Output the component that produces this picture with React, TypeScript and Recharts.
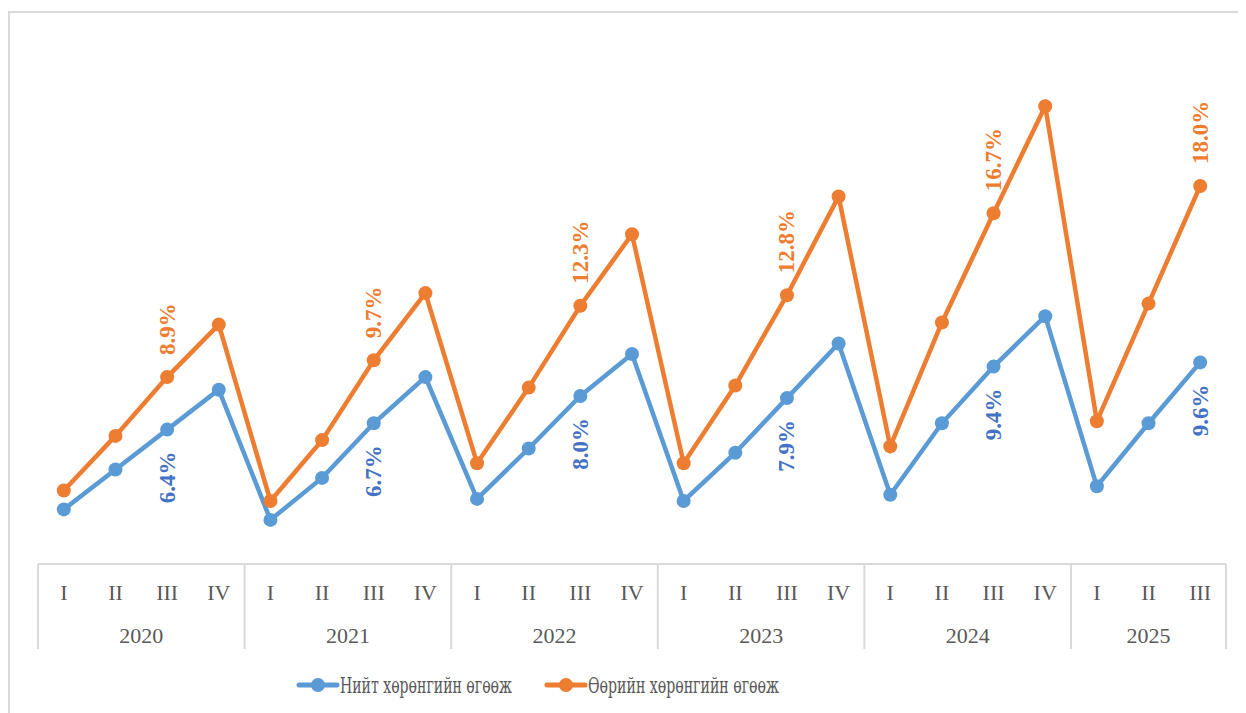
import { LabelList, Legend, Line, LineChart, XAxis, YAxis } from "recharts"

const years = ["2020", "2021", "2022", "2023", "2024", "2025"]
const quarters = [
  "I", "II", "III", "IV",
  "I", "II", "III", "IV",
  "I", "II", "III", "IV",
  "I", "II", "III", "IV",
  "I", "II", "III", "IV",
  "I", "II", "III",
]
const quarterYears = [
  "2020", "2020", "2020", "2020",
  "2021", "2021", "2021", "2021",
  "2022", "2022", "2022", "2022",
  "2023", "2023", "2023", "2023",
  "2024", "2024", "2024", "2024",
  "2025", "2025", "2025",
]
// Нийт хөрөнгийн өгөөж (ROA), cumulative %
const roa = [
  2.6, 4.5, 6.4, 8.3,
  2.1, 4.1, 6.7, 8.9,
  3.1, 5.5, 8.0, 10.0,
  3.0, 5.3, 7.9, 10.5,
  3.3, 6.7, 9.4, 11.8,
  3.7, 6.7, 9.6,
]
// Өөрийн хөрөнгийн өгөөж (ROE), cumulative %
const roe = [
  3.5, 6.1, 8.9, 11.4,
  3.0, 5.9, 9.7, 12.9,
  4.8, 8.4, 12.3, 15.7,
  4.8, 8.5, 12.8, 17.5,
  5.6, 11.5, 16.7, 21.8,
  6.8, 12.4, 18.0,
]

const seriesNames = ["Нийт хөрөнгийн өгөөж", "Өөрийн хөрөнгийн өгөөж"]
const BLUE = "#5B9BD5"
const ORANGE = "#ED7D31"
const FONT = "Liberation Serif, DejaVu Serif, serif"
const CYR_FONT = "DejaVu Serif Condensed, DejaVu Serif, serif"

const data = quarters.map((q, i) => ({
  key: `${quarterYears[i]}-${q}`,
  q,
  year: quarterYears[i],
  roa: roa[i],
  roe: roe[i],
}))

const W = 1238
const H = 705
const LEFT = 30
const RIGHT = 20
const AXIS_Y = 556
const BAND = (W - LEFT - RIGHT) / quarters.length

function AxisTick(props: any) {
  const { x, index } = props
  const q = quarters[index]
  const yr = quarterYears[index]
  const parts: any[] = []
  parts.push(
    <text key="q" x={x} y={AXIS_Y + 28} textAnchor="middle" dominantBaseline="central"
      fontFamily={FONT} fontSize={22} fill="#595959">{q}</text>
  )
  if (index === 0 || quarterYears[index - 1] !== yr) {
    const n = quarterYears.filter((v) => v === yr).length
    const left = x - BAND / 2
    parts.push(<line key="l" x1={left} x2={left} y1={AXIS_Y} y2={AXIS_Y + 85} stroke="#d9d9d9" strokeWidth={2} />)
    parts.push(
      <text key="y" x={left + (n * BAND) / 2} y={AXIS_Y + 71} textAnchor="middle" dominantBaseline="central"
        fontFamily={FONT} fontSize={22} fill="#595959">{yr}</text>
    )
  }
  if (index === quarters.length - 1) {
    const right = x + BAND / 2
    parts.push(<line key="r" x1={right} x2={right} y1={AXIS_Y} y2={AXIS_Y + 85} stroke="#d9d9d9" strokeWidth={2} />)
  }
  return <g>{parts}</g>
}

const makeLabel = (color: string, above: boolean) => (props: any) => {
  const { x, y, value, index } = props
  if (quarters[index] !== "III") return null
  const ly = above ? y - 22 : y + 22
  return (
    <text x={x} y={ly} transform={`rotate(-90, ${x}, ${ly})`} textAnchor={above ? "start" : "end"}
      dominantBaseline="central" fontFamily={FONT} fontSize={23} fontWeight="bold" fill={color}>
      {`${Number(value).toFixed(1)}%`}
    </text>
  )
}

function LegendContent() {
  const items = [
    { name: seriesNames[0], color: BLUE, x: 289, w: 172 },
    { name: seriesNames[1], color: ORANGE, x: 537, w: 191 },
  ]
  return (
    <svg width={W} height={40} style={{ display: "block" }}>
      {items.map((it) => (
        <g key={it.name}>
          <line x1={it.x + 2} x2={it.x + 40} y1={20} y2={20} stroke={it.color} strokeWidth={5} strokeLinecap="round" />
          <circle cx={it.x + 21} cy={20} r={7} fill={it.color} />
          <text x={it.x + 43} y={20} dominantBaseline="central" fontFamily={CYR_FONT} fontSize={23}
            textLength={it.w} lengthAdjust="spacingAndGlyphs" fill="#595959">
            {it.name}
          </text>
        </g>
      ))}
    </svg>
  )
}

export default function App() {
  return (
    <div style={{ position: "relative", width: W, height: H }}>
      <div style={{ position: "absolute", left: 0, top: 3, right: -20, bottom: -20, borderTop: "2px solid #d9d9d9", borderLeft: "2px solid #d9d9d9" }} />
      <LineChart width={W} height={H} data={data} margin={{ top: 31, right: RIGHT, left: LEFT, bottom: 8 }}>
        <XAxis dataKey="key" interval={0} height={101} tick={<AxisTick />} tickLine={false}
          padding={{ left: BAND / 2, right: BAND / 2 }}
          axisLine={{ stroke: "#d9d9d9", strokeWidth: 2 }} />
        <YAxis hide domain={[0, 25]} />
        <Legend verticalAlign="bottom" height={40} wrapperStyle={{ left: 0, width: W }} content={<LegendContent />} />
        <Line dataKey="roa" name={seriesNames[0]} stroke={BLUE} strokeWidth={4.5} isAnimationActive={false}
          dot={{ r: 7, fill: BLUE, stroke: BLUE, strokeWidth: 0 }}>
          <LabelList dataKey="roa" content={makeLabel("#4472C4", false)} />
        </Line>
        <Line dataKey="roe" name={seriesNames[1]} stroke={ORANGE} strokeWidth={4.5} isAnimationActive={false}
          dot={{ r: 7, fill: ORANGE, stroke: ORANGE, strokeWidth: 0 }}>
          <LabelList dataKey="roe" content={makeLabel(ORANGE, true)} />
        </Line>
      </LineChart>
    </div>
  )
}
